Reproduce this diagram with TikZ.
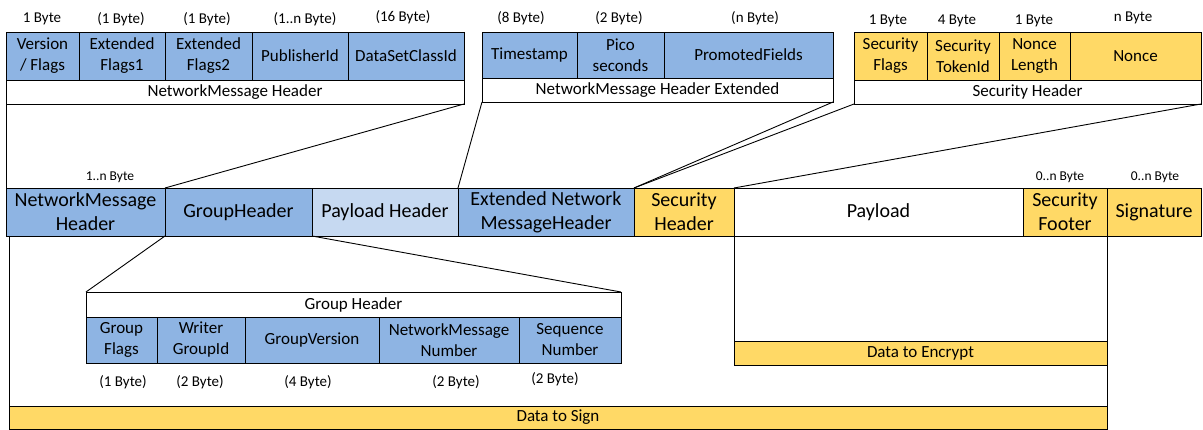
\documentclass[tikz,border=0pt]{standalone}
\usepackage{fontspec}
\setmainfont{Carlito}
\definecolor{blueA}{RGB}{142,180,227}
\definecolor{blueB}{RGB}{198,217,241}
\definecolor{yel}{RGB}{255,217,102}
\tikzset{
  cellst/.style={draw=black,line width=0.9pt,inner sep=0pt,outer sep=0pt,align=center,font=\fontsize{17}{21}\selectfont},
  bigst/.style={cellst,font=\fontsize{20}{24}\selectfont},
  bytest/.style={inner sep=0pt,font=\fontsize{15}{17}\selectfont},
  smallbyte/.style={inner sep=0pt,font=\fontsize{13.5}{15}\selectfont},
  conn/.style={draw=black,line width=0.9pt}
}
\newcommand\cellb[8][cellst]{%
  \pgfmathsetmacro\cw{#5-#3}\pgfmathsetmacro\ch{#6-#4}%
  \node[#1,fill=#7,minimum width=\cw pt,minimum height=\ch pt] (#2) at ({(#3+#5)/2},{(#4+#6)/2}) {#8};}
\begin{document}
\begin{tikzpicture}[x=1pt,y=-1pt]
\useasboundingbox (0,0) rectangle (1203,430);
% ---- top-left block
\node[bytest] (lb1) at (42,19) {1 Byte};
\node[bytest] (lb2) at (121,19) {(1 Byte)};
\node[bytest] (lb3) at (207,19) {(1 Byte)};
\node[bytest] (lb4) at (305,19) {(1..n Byte)};
\node[bytest] (lb5) at (403,17) {(16 Byte)};
\cellb{vf}{6}{32}{79}{80}{blueA}{Version\\/ Flags}
\cellb{ef1}{79}{32}{165}{80}{blueA}{Extended\\Flags1}
\cellb{ef2}{165}{32}{252}{80}{blueA}{Extended\\Flags2}
\cellb{pid}{252}{32}{348}{80}{blueA}{PublisherId}
\cellb{dsc}{348}{32}{464}{80}{blueA}{DataSetClassId}
\cellb{nmhbar}{6}{80}{464}{104}{white}{NetworkMessage Header}
% ---- top-middle block
\node[bytest] (lm1) at (521,18) {(8 Byte)};
\node[bytest] (lm2) at (619,18) {(2 Byte)};
\node[bytest] (lm3) at (755,18) {(n Byte)};
\cellb{ts}{482}{32}{577}{78}{blueA}{Timestamp}
\cellb{pico}{577}{32}{664}{78}{blueA}{Pico\\seconds}
\cellb{prom}{664}{32}{833}{78}{blueA}{PromotedFields}
\cellb{nmhebar}{482}{78}{833}{102}{white}{NetworkMessage Header Extended}
% ---- top-right block
\node[bytest] (lr1) at (888,21) {1 Byte};
\node[bytest] (lr2) at (957,21) {4 Byte};
\node[bytest] (lr3) at (1034,21) {1 Byte};
\node[bytest] (lr4) at (1133,18) {n Byte};
\cellb{sflags}{854}{32}{927}{80}{yel}{Security\\Flags}
\cellb{stid}{927}{32}{999}{80}{yel}{Security\\TokenId}
\cellb{nlen}{999}{32}{1070}{80}{yel}{Nonce\\Length}
\cellb{nonce}{1070}{32}{1201}{80}{yel}{Nonce}
\cellb{shbar}{854}{80}{1201}{104}{white}{Security Header}
% ---- middle row
\node[smallbyte] (mb1) at (110,177) {1..n Byte};
\node[smallbyte] (mb2) at (1060,177) {0..n Byte};
\node[smallbyte] (mb3) at (1155,177) {0..n Byte};
\cellb[bigst]{nmh}{6}{188}{165}{236}{blueA}{NetworkMessage\\Header}
\cellb[bigst]{gh}{165}{188}{312}{236}{blueA}{GroupHeader}
\cellb[bigst]{ph}{312}{188}{458}{236}{blueB}{Payload Header}
\cellb[bigst]{enmh}{458}{188}{634}{236}{blueA}{Extended Network\\MessageHeader}
\cellb[bigst]{sh}{634}{188}{734}{236}{yel}{Security\\Header}
\cellb[bigst]{pl}{734}{188}{1023}{236}{white}{Payload}
\cellb[bigst]{sfoot}{1023}{188}{1107}{236}{yel}{Security\\Footer}
\cellb[bigst]{sig}{1107}{188}{1201}{236}{yel}{Signature}
% ---- group header block
\cellb{ghbar}{86}{292}{621}{317}{white}{Group Header}
\cellb{gf}{86}{317}{157}{363}{blueA}{Group\\Flags}
\cellb{wgid}{157}{317}{245}{363}{blueA}{Writer\\GroupId}
\cellb{gv}{245}{317}{379}{363}{blueA}{GroupVersion}
\cellb{nmn}{379}{317}{519}{363}{blueA}{NetworkMessage\\Number}
\cellb{sn}{519}{317}{621}{363}{blueA}{Sequence\\Number}
\node[bytest] (gb1) at (123,382) {(1 Byte)};
\node[bytest] (gb2) at (200,382) {(2 Byte)};
\node[bytest] (gb3) at (308,382) {(4 Byte)};
\node[bytest] (gb4) at (456,382) {(2 Byte)};
\node[bytest] (gb5) at (555,379) {(2 Byte)};
% ---- data boxes
\cellb{denc}{734}{341}{1107}{365}{yel}{Data to Encrypt}
\cellb{dsign}{9}{406}{1107}{429}{yel}{Data to Sign}
% ---- connectors
\draw[conn] (nmhbar.south west) -- (nmh.north west);
\draw[conn] (nmhbar.south east) -- (gh.north west);
\draw[conn] (nmhebar.south west) -- (enmh.north west);
\draw[conn] (nmhebar.south east) -- (sh.north west);
\draw[conn] (shbar.south west) -- (sh.north west);
\draw[conn] (shbar.south east) -- (pl.north west);
\draw[conn] (gh.south west) -- (ghbar.north west);
\draw[conn] (gh.south east) -- (ghbar.north east);
\draw[conn] (dsign.north west |- nmh.south) -- (dsign.north west);
\draw[conn] (pl.south west) -- (denc.north west);
\draw[conn] (sfoot.south east) -- (dsign.north east);
\end{tikzpicture}
\end{document}
